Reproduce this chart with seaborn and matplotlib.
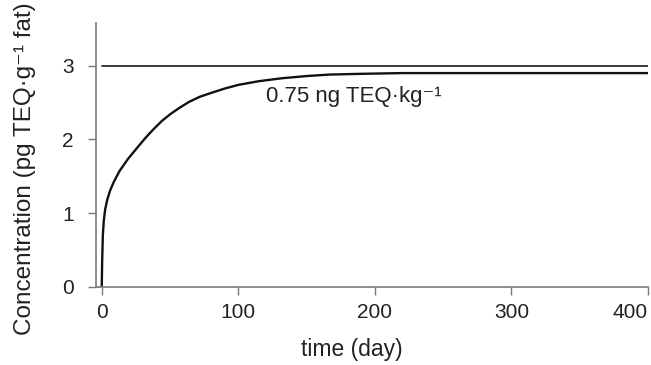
import matplotlib
matplotlib.use('Agg')
import matplotlib.pyplot as plt
import seaborn as sns
import pandas as pd

# Data
days = [0, 0.3, 0.8, 1.5, 2.5, 4, 6, 8.5, 11, 13, 16, 19, 23, 27, 32, 38, 44, 50, 57,
        64, 72, 80, 90, 100, 115, 132, 150, 167, 190, 220, 260, 300, 350, 400]
concentration = [0, 0.35, 0.7, 0.9, 1.05, 1.18, 1.3, 1.41, 1.5, 1.57, 1.65, 1.73, 1.82,
                 1.91, 2.02, 2.14, 2.25, 2.34, 2.43, 2.51, 2.58, 2.63, 2.69, 2.74, 2.79,
                 2.83, 2.86, 2.88, 2.89, 2.90, 2.90, 2.90, 2.90, 2.90]
reference_level = 3
x_ticks = [0, 100, 200, 300, 400]
y_ticks = [0, 1, 2, 3]

df = pd.DataFrame({'time': days, 'conc': concentration})

sns.set_style('white')
plt.rcParams['font.family'] = ['Liberation Sans', 'DejaVu Sans']

fig = plt.figure(figsize=(6.51, 3.65), dpi=100)
ax = fig.add_axes([0.1475, 0.2145, 0.848, 0.7225])

# Reference level line
ax.plot([0, 400], [reference_level, reference_level], color='#3a3a3a', linewidth=1.4)

# Concentration curve
sns.lineplot(data=df, x='time', y='conc', ax=ax, color='#111111', linewidth=1.7)

ax.text(120, 2.58, '0.75 ng TEQ\u00b7kg\u207b\u00b9', fontsize=16, va='center',
        ha='left', color='#222222')

ax.set_xlim(-4.2, 400)
ax.set_ylim(0, 3.58)
ax.set_xticks(x_ticks)
ax.set_yticks(y_ticks)

for side in ['top', 'right']:
    ax.spines[side].set_visible(False)
for side in ['left', 'bottom']:
    ax.spines[side].set_color('#7a7a7a')
    ax.spines[side].set_linewidth(1.2)

ax.tick_params(axis='both', which='major', bottom=True, left=True, length=6, width=1,
               color='#7a7a7a', labelsize=15, labelcolor='#222222', direction='out')
ax.tick_params(axis='x', pad=6)
ax.tick_params(axis='y', pad=10)
ax.get_xticklabels()[-1].set_ha('right')

ax.set_xlabel('time (day)', fontsize=16.5, color='#222222')
ax.set_ylabel('Concentration (pg TEQ\u00b7g\u207b\u00b9 fat)', fontsize=17.5, color='#222222')
ax.xaxis.set_label_coords(0.463, -0.195)
ax.yaxis.set_label_coords(-0.109, 0.447)

fig.savefig('out.png', dpi=100)
